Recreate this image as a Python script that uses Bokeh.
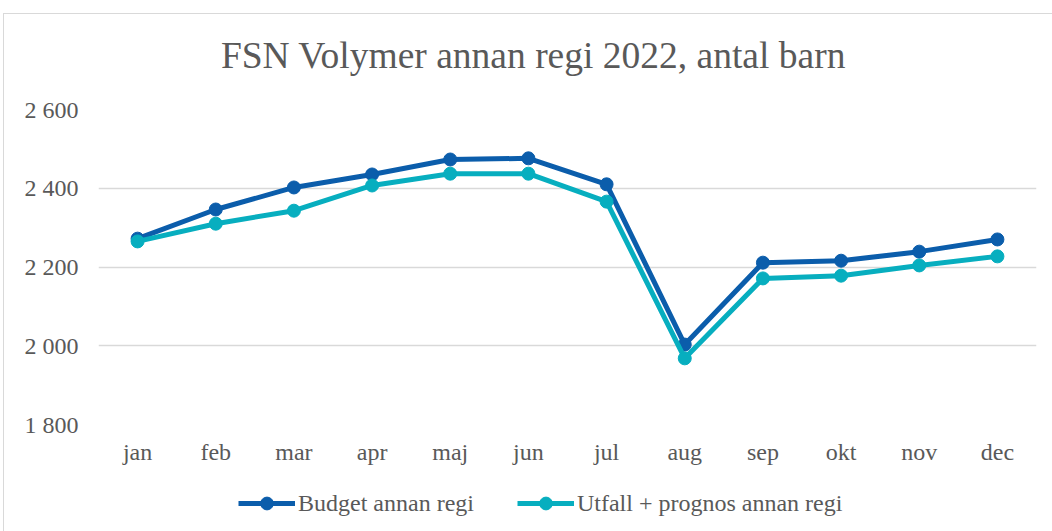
from bokeh.plotting import figure
from bokeh.layouts import column
from bokeh.models import FixedTicker, Legend, LegendItem, ColumnDataSource, Label
from bokeh.embed import file_html
from bokeh.resources import INLINE

months = ["jan", "feb", "mar", "apr", "maj", "jun", "jul", "aug", "sep", "okt", "nov", "dec"]
budget = [2272, 2346, 2402, 2435, 2473, 2476, 2410, 2003, 2211, 2216, 2239, 2270]
utfall = [2265, 2310, 2343, 2407, 2437, 2437, 2366, 1968, 2171, 2178, 2204, 2227]
y_ticks = [1800, 2000, 2200, 2400, 2600]
y_tick_labels = ["1 800", "2 000", "2 200", "2 400", "2 600"]

title_text = "FSN Volymer annan regi 2022, antal barn"
name_budget = "Budget annan regi"
name_utfall = "Utfall + prognos annan regi"

c_budget = "#0B5DAB"
c_utfall = "#07AEBF"
txt = "#595959"
FONT = "Liberation Serif"
W = 1070
FW = 938  # frame width (column aligns the frames of all three strips)

# --- title strip ---
p0 = figure(width=W, height=80, output_backend="svg", toolbar_location=None,
            min_border=0, x_range=(0, FW), y_range=(0, 80),
            x_axis_location=None, y_axis_location=None)
p0.grid.visible = False
p0.outline_line_color = None
p0.border_fill_color = "white"
p0.add_layout(Label(x=435, y=39, text=title_text, text_align="center", text_baseline="middle",
                    text_font=FONT, text_font_size="37.5px", text_color=txt))

# --- chart ---
src = ColumnDataSource(dict(m=months, b=budget, u=utfall))
p = figure(x_range=months, y_range=(1800, 2600), width=W, height=385,
           output_backend="svg", toolbar_location=None,
           min_border_left=94, min_border_right=38, min_border_top=15, min_border_bottom=55)
p.outline_line_color = None
p.background_fill_color = "white"
p.border_fill_color = "white"

p.xgrid.grid_line_color = None
p.ygrid.grid_line_color = "#d9d9d9"
p.ygrid.grid_line_width = 1.3
p.ygrid.ticker = FixedTicker(ticks=y_ticks)

p.yaxis.ticker = FixedTicker(ticks=y_ticks)
p.yaxis.major_label_overrides = {t: l for t, l in zip(y_ticks, y_tick_labels)}
for ax in (p.xaxis[0], p.yaxis[0]):
    ax.axis_line_color = None
    ax.major_tick_line_color = None
    ax.minor_tick_line_color = None
    ax.major_tick_in = 0
    ax.major_tick_out = 0
    ax.major_label_text_font = FONT
    ax.major_label_text_font_size = "24px"
    ax.major_label_text_color = txt
p.yaxis.major_label_standoff = 20
p.xaxis.major_label_standoff = 14

p.line("m", "b", source=src, line_color=c_budget, line_width=5)
p.scatter("m", "b", source=src, size=13, fill_color=c_budget, line_color=c_budget)
p.line("m", "u", source=src, line_color=c_utfall, line_width=5)
p.scatter("m", "u", source=src, size=13, fill_color=c_utfall, line_color=c_utfall)

# --- legend strip ---
p2 = figure(width=W, height=60, output_backend="svg", toolbar_location=None,
            min_border=0, x_range=(0, 1), y_range=(0, 1),
            x_axis_location=None, y_axis_location=None)
p2.grid.visible = False
p2.outline_line_color = None
p2.border_fill_color = "white"
off = ColumnDataSource(dict(x=[-10], y=[-10]))
lb2 = p2.line("x", "y", source=off, line_color=c_budget, line_width=5)
sb2 = p2.scatter("x", "y", source=off, size=13, fill_color=c_budget, line_color=c_budget)
lu2 = p2.line("x", "y", source=off, line_color=c_utfall, line_width=5)
su2 = p2.scatter("x", "y", source=off, size=13, fill_color=c_utfall, line_color=c_utfall)

legend = Legend(items=[LegendItem(label=name_budget, renderers=[lb2, sb2]),
                       LegendItem(label=name_utfall, renderers=[lu2, su2])],
                orientation="horizontal", location=(140, 20))
legend.glyph_width = 57
legend.glyph_height = 32
legend.label_standoff = 3
legend.spacing = 43
legend.padding = 0
legend.margin = 0
legend.border_line_color = None
legend.background_fill_alpha = 0
legend.label_text_font = FONT
legend.label_text_font_size = "24px"
legend.label_text_color = txt
p2.add_layout(legend, "center")

layout = column(p0, p, p2, spacing=0)
layout.styles = {"margin-left": "3px", "margin-top": "13px", "border": "1px solid #d9d9d9"}

open("out.html", "w").write(file_html(layout, INLINE))
